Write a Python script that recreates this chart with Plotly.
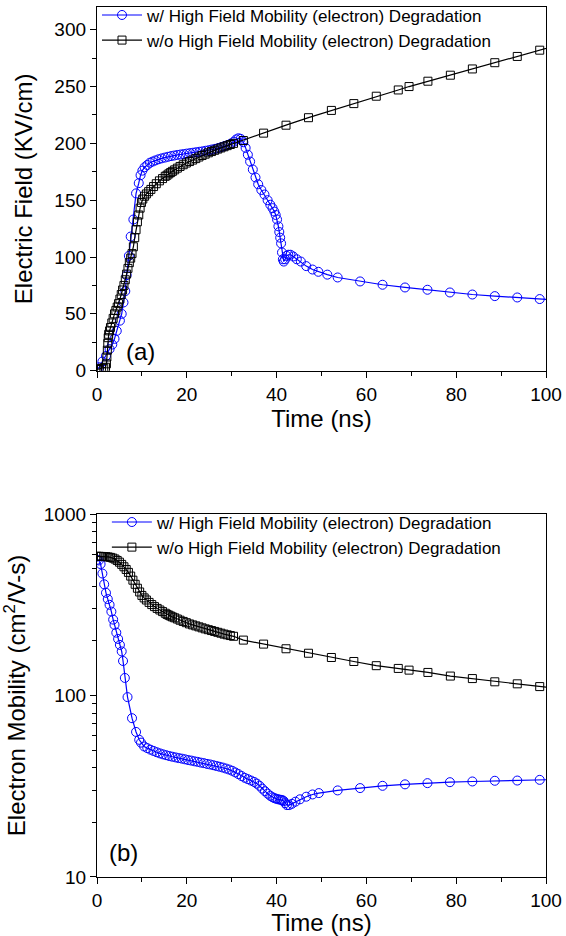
import plotly.graph_objects as go

# ---------------- data ----------------
# Panel (a): Electric field (KV/cm) vs time (ns)
t_E_with = [0, 0.5, 1.2, 2.0, 2.8, 3.4, 3.9, 4.4, 5.1, 5.5, 5.9, 6.3, 6.6, 7.1, 7.5, 8.1, 8.7, 9.3, 9.7, 10.1,
            10.6, 11.2, 11.8, 12.4, 13.0, 13.7, 14.4, 15.1, 15.8, 16.5, 17.2, 17.9, 18.6, 19.3, 20.0, 20.7,
            21.4, 22.1, 22.8, 23.5, 24.2, 24.9, 25.6, 26.3, 27.0, 27.7, 28.4, 29.1, 29.8, 30.5, 31.0, 31.5,
            32.0, 32.6, 33.1, 33.6, 34.1, 34.7, 35.3, 35.9, 36.6, 37.3, 38.0, 38.6, 39.1, 39.5, 39.8, 40.1,
            40.4, 40.6, 40.8, 41.0, 41.2, 41.4, 41.6, 41.9, 42.2, 42.6, 43.1, 43.7, 44.5, 45.4, 46.6, 48.0,
            49.3, 51.3, 53.6, 58.6, 63.6, 68.6, 73.6, 78.6, 83.6, 88.6, 93.6, 98.6, 103.6]
E_with = [1, 3, 8, 13, 19, 23, 28, 35, 44, 50, 60, 70, 84, 101, 118, 133, 156, 165, 172, 176,
          179, 181, 183, 184, 185, 186, 186.8, 187.5, 188.2, 188.8, 189.3, 189.8, 190.2, 190.6, 191, 191.4,
          191.8, 192.2, 192.6, 193, 193.5, 194, 194.6, 195.2, 195.9, 196.7, 197.6, 198.6, 199.8, 201.5, 203.5, 204.5,
          204, 201, 196, 190, 184, 177, 170, 164, 159, 155, 150, 146, 143, 140, 137, 133,
          127, 122, 117, 112, 104, 98, 96, 98, 101, 102, 102, 100.5, 98, 96, 92, 89,
          87, 84.5, 82, 78.5, 75.6, 73.2, 71.2, 68.8, 67, 65.6, 64.4, 63, 61.8]

t_E_without = [0, 0.5, 1.0, 1.5, 1.9, 2.1, 2.2, 2.3, 2.4, 2.5, 2.6, 2.8, 3.0, 3.3, 3.6, 3.9, 4.2, 4.5, 4.8,
               5.1, 5.4, 5.7, 6.0, 6.3, 6.6, 6.9, 7.2, 7.5, 7.8, 8.1, 8.4, 8.7, 9.0, 9.3, 9.6, 9.9, 10.2,
               10.6, 11.0, 11.5, 12.0, 12.6, 13.2, 13.9, 14.6, 15.2, 15.6, 16.0, 16.4, 16.8, 17.3, 17.9,
               18.5, 19.2, 19.9, 20.6, 21.3, 22.0, 22.7, 23.4, 24.1, 24.8, 25.5, 26.2, 26.9, 27.6, 28.3,
               29.0, 29.7, 30.4, 32.6, 37.1, 42.1, 47.1, 52.2, 57.2, 62.2, 67.1, 69.5, 73.7, 78.7, 83.6,
               88.6, 93.6, 98.6, 103.6]
E_without = [1, 1.5, 2, 2.5, 3, 6, 12, 18, 24, 29, 32, 35, 38, 42, 46, 50, 53, 56, 59,
             63, 67, 71, 75, 80, 85, 90, 95, 99, 103, 109, 117, 124, 131, 137, 143, 148, 151,
             153.5, 155.5, 157.5, 159.5, 162, 164.5, 167, 169, 171, 172, 173.2, 174.3, 175.4, 176.7, 178.2,
             179.7, 181.2, 182.7, 184, 185.3, 186.6, 188, 189.3, 190.5, 191.7, 192.8, 193.9, 195, 196, 197,
             198, 199, 200, 202.5, 209, 216, 222.6, 229, 235, 241.5, 247, 250, 254.7, 260, 265.5,
             271, 276.5, 282, 287.5]

# Panel (b): Electron mobility (cm^2/V-s) vs time (ns)
t_mu_with = [0, 0.4, 0.8, 1.2, 1.6, 2.0, 2.4, 2.8, 3.2, 3.6, 3.9, 4.3, 4.7, 5.1, 5.5, 5.8, 6.2, 6.8, 7.8, 8.7,
             9.4, 9.8, 10.5, 11.2, 11.9, 12.6, 13.3, 14.0, 14.7, 15.4, 16.1, 16.8, 17.5, 18.2, 18.9, 19.6,
             20.3, 21.0, 21.7, 22.4, 23.1, 23.8, 24.5, 25.2, 25.9, 26.6, 27.3, 28.0, 28.7, 29.4, 30.1, 30.8,
             31.5, 32.2, 32.9, 33.6, 34.3, 35.0, 35.6, 36.2, 36.8, 37.4, 38.0, 38.6, 39.1, 39.5, 39.9, 40.3,
             40.7, 41.0, 41.3, 41.6, 41.9, 42.3, 42.8, 43.4, 44.2, 45.2, 46.6, 48.0, 49.4, 53.6, 58.6, 63.6,
             68.6, 73.6, 78.6, 83.6, 88.6, 93.6, 98.6, 103.6]
mu_with = [560, 555, 530, 470, 410, 368, 340, 316, 290, 262, 245, 222, 205, 190, 175, 155, 125, 98, 75, 63,
           57, 55, 52.4, 51.3, 50.3, 49.5, 48.7, 48.0, 47.4, 46.9, 46.4, 46.0, 45.6, 45.2, 44.9, 44.5,
           44.1, 43.8, 43.4, 43.1, 42.7, 42.4, 42.0, 41.7, 41.3, 40.9, 40.5, 40.1, 39.6, 39.1, 38.5, 37.7,
           36.9, 36.0, 35.2, 34.6, 34.0, 33.4, 32.7, 31.8, 30.7, 29.7, 28.8, 28.0, 27.5, 27.2, 27.0, 26.8,
           26.7, 26.6, 26.5, 26.2, 25.5, 24.9, 24.9, 25.3, 26.0, 26.8, 27.7, 28.5, 29.0, 30.0, 30.9, 31.8,
           32.4, 32.9, 33.3, 33.6, 33.9, 34.0, 34.3, 34.5]

t_mu_without = [0, 0.5, 1.0, 1.5, 2.0, 2.5, 3.0, 3.5, 4.0, 4.5, 5.0, 5.5, 6.0, 6.5, 7.0, 7.5, 8.0, 8.5, 9.0,
                9.5, 10.0, 10.5, 11.0, 11.6, 12.2, 12.8, 13.4, 14.0, 14.6, 15.2, 15.6, 16.0, 16.4, 16.8,
                17.3, 17.9, 18.5, 19.2, 19.9, 20.6, 21.3, 22.0, 22.7, 23.4, 24.1, 24.8, 25.5, 26.2, 26.9,
                27.6, 28.3, 29.0, 29.7, 30.4, 32.6, 37.1, 42.1, 47.1, 52.2, 57.2, 62.2, 67.1, 69.5, 73.7,
                78.7, 83.6, 88.6, 93.6, 98.6, 103.6]
mu_without = [585, 585, 584, 583, 582, 580, 577, 572, 565, 555, 543, 528, 512, 495, 477, 455, 432, 410, 390,
              372, 356, 345, 336, 326, 317, 309, 302, 296, 290, 284, 280, 277, 274, 271,
              268, 264, 260, 256, 252, 248, 245, 242, 239, 236, 233, 230.5, 228, 225.5, 223,
              220.5, 218, 216, 214, 212, 202, 192, 181, 171, 162, 154, 146, 141, 138, 134,
              128, 124, 119, 116, 112, 108.5]

name_with = "w/ High Field Mobility (electron) Degradation"
name_without = "w/o High Field Mobility (electron) Degradation"

x_major = [0, 20, 40, 60, 80, 100]
x_minor = [10, 30, 50, 70, 90]
yE_major = [0, 50, 100, 150, 200, 250, 300]
yE_minor = [25, 75, 125, 175, 225, 275]
ymu_major = [10, 100, 1000]
ymu_minor = [20, 30, 40, 50, 60, 70, 80, 90, 200, 300, 400, 500, 600, 700, 800, 900]

# ---------------- figure ----------------
FONT = "Arial, 'Liberation Sans', sans-serif"
BLUE = "#0000FF"
BLACK = "#000000"

fig = go.Figure()

def add(x, y, name, color, symbol, size, xa, ya, leg):
    fig.add_trace(go.Scatter(
        x=x, y=y, name=name, mode="lines+markers",
        line=dict(color=color, width=1.2),
        marker=dict(symbol=symbol, size=size, color=color, line=dict(color=color, width=1)),
        xaxis=xa, yaxis=ya, legend=leg))

add(t_E_with, E_with, name_with, BLUE, "circle-open", 9, "x", "y", "legend")
add(t_E_without, E_without, name_without, BLACK, "square-open", 8, "x", "y", "legend")
add(t_mu_with, mu_with, name_with, BLUE, "circle-open", 9, "x2", "y2", "legend2")
add(t_mu_without, mu_without, name_without, BLACK, "square-open", 8, "x2", "y2", "legend2")

axis_common = dict(
    showline=True, linecolor="black", linewidth=1.3, mirror=True,
    ticks="outside", ticklen=6, tickwidth=1.3, tickcolor="black",
    showgrid=False, zeroline=False, automargin=False,
    tickfont=dict(family=FONT, size=19, color="black"),
)

top_dom = [0.582, 1.0]
bot_dom = [0.0, 0.4172]

fig.update_layout(
    width=566, height=936,
    margin=dict(l=97, r=20, t=7, b=59, autoexpand=False),
    paper_bgcolor="white", plot_bgcolor="white",
    font=dict(family=FONT, color="black"),
    xaxis=dict(**axis_common, domain=[0, 1], anchor="y", range=[0, 100],
               tickvals=x_major, ticktext=[str(v) for v in x_major],
               minor=dict(tickvals=x_minor, ticks="outside", ticklen=4, tickwidth=1.3, tickcolor="black"),
               title=dict(text="Time (ns)", font=dict(family=FONT, size=24), standoff=0)),
    yaxis=dict(**axis_common, domain=top_dom, anchor="x", range=[0, 320],
               tickvals=yE_major, ticktext=[str(v) for v in yE_major],
               minor=dict(tickvals=yE_minor, ticks="outside", ticklen=4, tickwidth=1.3, tickcolor="black"),
               title=dict(text="Electric Field (KV/cm)", font=dict(family=FONT, size=24), standoff=14)),
    xaxis2=dict(**axis_common, domain=[0, 1], anchor="y2", range=[0, 100],
                tickvals=x_major, ticktext=[str(v) for v in x_major],
                minor=dict(tickvals=x_minor, ticks="outside", ticklen=4, tickwidth=1.3, tickcolor="black"),
                title=dict(text="Time (ns)", font=dict(family=FONT, size=24), standoff=0)),
    yaxis2=dict(**axis_common, domain=bot_dom, anchor="x2", type="log", range=[1, 3],
                tickvals=ymu_major, ticktext=[str(v) for v in ymu_major],
                minor=dict(tickvals=ymu_minor, ticks="outside", ticklen=4, tickwidth=1.3, tickcolor="black"),
                title=dict(text="Electron Mobility (cm<sup>2</sup>/V-s)", font=dict(family=FONT, size=24), standoff=14)),
    xaxis3=dict(overlaying="x", anchor="y", side="top", range=[0, 100], showline=False, automargin=False,
                ticks="inside", ticklen=4, tickwidth=1.3, tickcolor="black",
                tickvals=x_minor + x_major, showticklabels=False, showgrid=False, zeroline=False),
    xaxis4=dict(overlaying="x2", anchor="y2", side="top", range=[0, 100], showline=False, automargin=False,
                ticks="inside", ticklen=4, tickwidth=1.3, tickcolor="black",
                tickvals=x_minor + x_major, showticklabels=False, showgrid=False, zeroline=False),
    legend=dict(x=0.0, y=1.011, xanchor="left", yanchor="top", xref="paper", yref="paper",
                bgcolor="rgba(0,0,0,0)", borderwidth=0, itemwidth=40, tracegroupgap=0,
                font=dict(family=FONT, size=17, color="black")),
    legend2=dict(x=0.022, y=bot_dom[1] + 0.011, xanchor="left", yanchor="top", xref="paper", yref="paper",
                 bgcolor="rgba(0,0,0,0)", borderwidth=0, itemwidth=40, tracegroupgap=0,
                 font=dict(family=FONT, size=17, color="black")),
    annotations=[
        dict(text="(a)", x=9.7, y=16.5, xref="x", yref="y", showarrow=False,
             font=dict(family=FONT, size=24, color="black")),
        dict(text="(b)", x=5.9, y=1.134, xref="x2", yref="y2", showarrow=False,
             font=dict(family=FONT, size=24, color="black")),
    ],
)

fig.write_html("out.html")
